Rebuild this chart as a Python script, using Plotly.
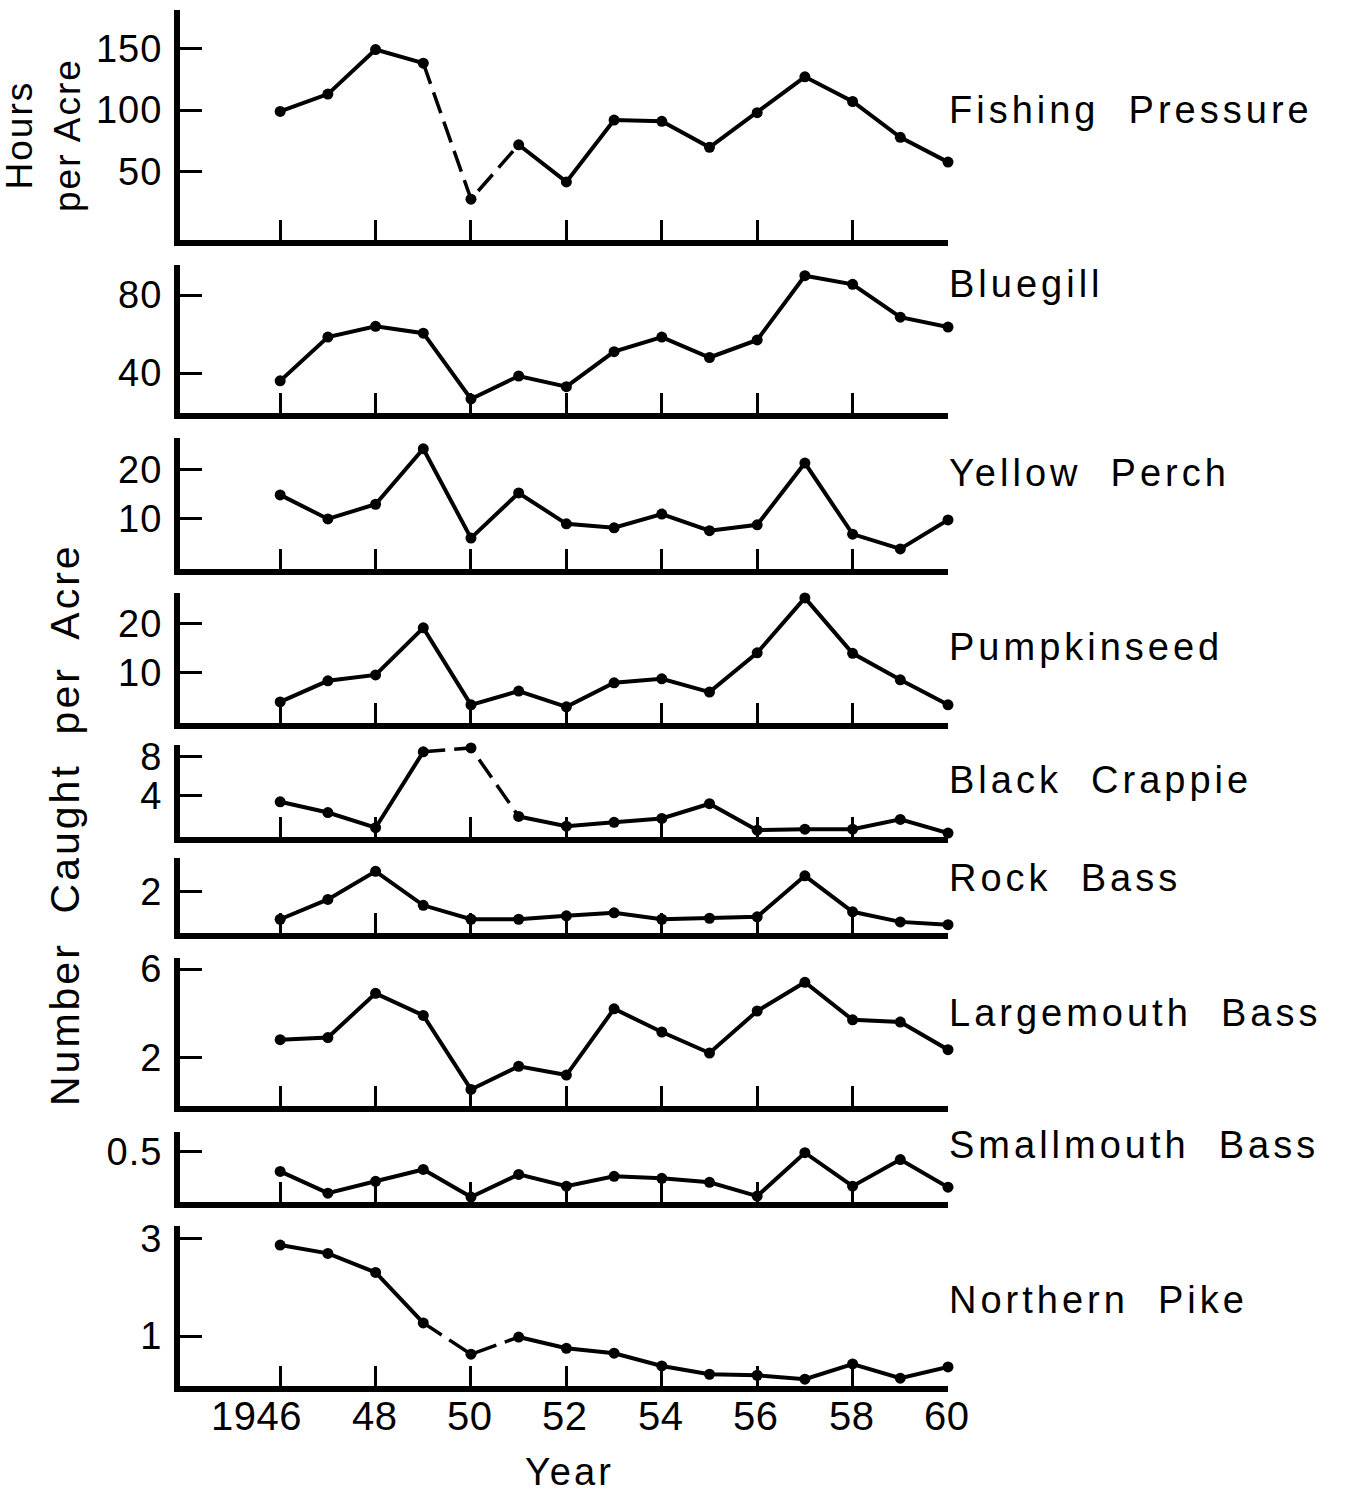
import plotly.graph_objects as go

W, H = 1370, 1495

years = list(range(1946, 1961))

fishing_pressure = [99, 113, 149, 138, 28, 72, 42, 92, 91, 70, 98, 127, 107, 78, 58]
bluegill = [36, 58.5, 64, 60.5, 26.7, 38.5, 33, 51, 58.5, 48, 57, 90, 85.6, 68.7, 63.6]
yellow_perch = [14.9, 10, 13, 24.3, 6.1, 15.3, 9, 8.2, 11, 7.6, 8.8, 21.4, 6.9, 3.9, 9.8]
pumpkinseed = [4.1, 8.4, 9.6, 19.2, 3.5, 6.3, 3.1, 8, 8.8, 6.1, 14.1, 25.3, 14, 8.6, 3.5]
black_crappie = [3.4, 2.3, 0.75, 8.5, 8.9, 1.9, 0.9, 1.3, 1.7, 3.2, 0.5, 0.6, 0.6, 1.6, 0.2]
rock_bass = [0.63, 1.61, 3.0, 1.32, 0.63, 0.63, 0.8, 0.95, 0.63, 0.68, 0.75, 2.78, 1.0, 0.5, 0.36]
largemouth_bass = [2.8, 2.9, 4.9, 3.9, 0.55, 1.6, 1.2, 4.2, 3.15, 2.2, 4.1, 5.4, 3.7, 3.6, 2.35]
smallmouth_bass = [0.3, 0.08, 0.2, 0.32, 0.04, 0.27, 0.15, 0.25, 0.23, 0.19, 0.05, 0.49, 0.15, 0.42, 0.14]
northern_pike = [2.86, 2.69, 2.3, 1.27, 0.63, 0.98, 0.75, 0.65, 0.39, 0.22, 0.2, 0.12, 0.43, 0.14, 0.37]

panel_names = ["Fishing  Pressure", "Bluegill", "Yellow  Perch", "Pumpkinseed",
               "Black  Crappie", "Rock  Bass", "Largemouth  Bass",
               "Smallmouth  Bass", "Northern  Pike"]
series = [fishing_pressure, bluegill, yellow_perch, pumpkinseed, black_crappie,
          rock_bass, largemouth_bass, smallmouth_bass, northern_pike]
y_ticks = [[50, 100, 150], [40, 80], [10, 20], [10, 20], [4, 8], [2], [2, 6], [0.5], [1, 3]]
y_ticktext = [["50", "100", "150"], ["40", "80"], ["10", "20"], ["10", "20"], ["4", "8"],
              ["2"], ["2", "6"], ["0.5"], ["1", "3"]]
# which series have dashed segments 1949-1951
dashed = [True, False, False, False, True, False, False, False, True]

x_ticks = [1946, 1948, 1950, 1952, 1954, 1956, 1958, 1960]
x_ticktext = ["1946", "48", "50", "52", "54", "56", "58", "60"]

x_title = "Year"
y_title_top = "Hours<br>per Acre"
y_title_main = "Number  Caught  per  Acre"

# layout geometry (pixels): panel top, panel bottom, y-range
panels_px = [(10, 240), (265, 413), (438, 569), (593, 723), (745, 837),
             (858, 933), (958, 1106), (1132, 1202), (1226, 1386)]
y_ranges = [(-5, 181), (19.5, 95.5), (-0.2, 26.5), (-0.2, 26.3), (-0.2, 9.2),
            (-0.05, 3.66), (-0.2, 6.5), (-0.01, 0.7), (-0.02, 3.25)]
label_y_px = [110, 284, 473, 647, 780, 878, 1013, 1145, 1300]

x_left_px, x_right_px = 180, 948
x_range = [1943.9, 1960]

FONT = "Liberation Sans, Arial, Helvetica, sans-serif"


def spaced(t, ls):
    return f'<span style="letter-spacing:{ls}px">{t}</span>'


fig = go.Figure()
layout = dict(
    width=W, height=H,
    margin=dict(l=0, r=0, t=0, b=0, autoexpand=False),
    paper_bgcolor="white", plot_bgcolor="white",
    showlegend=False,
    font=dict(family=FONT, color="black"),
)

annotations = []
n_panels = len(series)
for i, (vals, name) in enumerate(zip(series, panel_names)):
    n = i + 1
    xa = "x" if n == 1 else f"x{n}"
    ya = "y" if n == 1 else f"y{n}"
    top, bot = panels_px[i]
    dom_y = [1 - bot / H, 1 - top / H]

    if dashed[i]:
        solid_y = [None if yr == 1950 else v for yr, v in zip(years, vals)]
        fig.add_trace(go.Scatter(x=years, y=solid_y, mode="lines", xaxis=xa, yaxis=ya,
                                 line=dict(color="black", width=4), connectgaps=False,
                                 cliponaxis=False, hoverinfo="skip"))
        idx = [years.index(1949), years.index(1950), years.index(1951)]
        fig.add_trace(go.Scatter(x=[years[k] for k in idx], y=[vals[k] for k in idx],
                                 mode="lines", xaxis=xa, yaxis=ya,
                                 line=dict(color="black", width=3.5, dash="22px,9px"),
                                 cliponaxis=False, hoverinfo="skip"))
    else:
        fig.add_trace(go.Scatter(x=years, y=vals, mode="lines", xaxis=xa, yaxis=ya,
                                 line=dict(color="black", width=4),
                                 cliponaxis=False, hoverinfo="skip"))
    fig.add_trace(go.Scatter(x=years, y=vals, mode="markers", xaxis=xa, yaxis=ya,
                             marker=dict(color="black", size=11),
                             cliponaxis=False, hoverinfo="skip"))

    layout["xaxis" if n == 1 else f"xaxis{n}"] = dict(
        domain=[x_left_px / W, x_right_px / W], range=x_range, anchor=ya,
        showline=True, linecolor="black", linewidth=6,
        tickmode="array", tickvals=x_ticks, ticktext=x_ticktext,
        ticks="inside", ticklen=20, tickwidth=3, tickcolor="black",
        showticklabels=False, showgrid=False, zeroline=False,
        automargin=False, fixedrange=True,
    )
    layout["yaxis" if n == 1 else f"yaxis{n}"] = dict(
        domain=dom_y, range=list(y_ranges[i]), anchor=xa,
        showline=True, linecolor="black", linewidth=6,
        tickmode="array", tickvals=y_ticks[i],
        ticktext=[spaced(t, 1) for t in y_ticktext[i]],
        ticks="inside", ticklen=22, tickwidth=3, tickcolor="black",
        ticklabelstandoff=4,
        showgrid=False, zeroline=False,
        tickfont=dict(family=FONT, size=38, color="black"),
        automargin=False, fixedrange=True,
    )
    annotations.append(dict(
        text=spaced(name, 4), xref="paper", yref="paper",
        x=(x_right_px - 1) / W, y=1 - label_y_px[i] / H,
        xanchor="left", yanchor="middle", showarrow=False,
        font=dict(family=FONT, size=38, color="black"),
    ))

# x tick labels on the bottom panel (right-aligned just past each tick)
last_x = f"x{n_panels}"
for tv, tt in zip(x_ticks, x_ticktext):
    annotations.append(dict(
        text=spaced(tt, 0.5), xref=last_x, yref="paper",
        x=tv, y=1 - 1416 / H, xanchor="right", yanchor="middle",
        xshift=24, showarrow=False,
        font=dict(family=FONT, size=40, color="black"),
    ))

annotations.append(dict(
    text=spaced(x_title, 3), xref="paper", yref="paper",
    x=569 / W, y=1 - 1472 / H, xanchor="center", yanchor="middle",
    showarrow=False, font=dict(family=FONT, size=38, color="black"),
))
annotations.append(dict(
    text=spaced(y_title_top, 2), xref="paper", yref="paper",
    x=44 / W, y=1 - 135 / H, xanchor="center", yanchor="middle",
    showarrow=False, textangle=-90,
    font=dict(family=FONT, size=37, color="black"),
))
annotations.append(dict(
    text=spaced(y_title_main, 3), xref="paper", yref="paper",
    x=65 / W, y=1 - 825 / H, xanchor="center", yanchor="middle",
    showarrow=False, textangle=-90,
    font=dict(family=FONT, size=41, color="black"),
))

layout["annotations"] = annotations
fig.update_layout(**layout)
fig.write_html("out.html")
